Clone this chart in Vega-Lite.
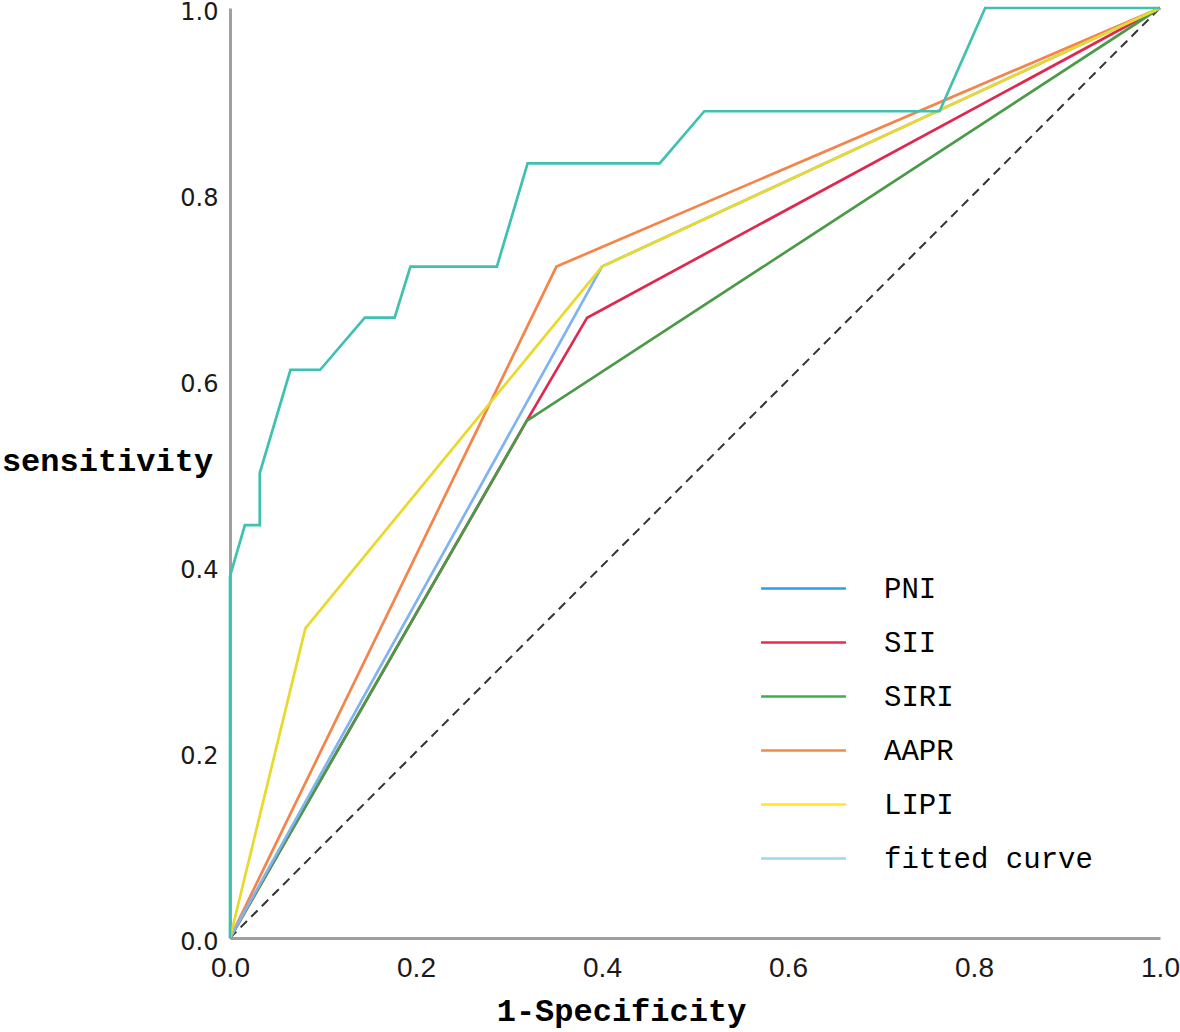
{
  "$schema": "https://vega.github.io/schema/vega-lite/v6.json",
  "description": "ROC curves of PNI, SII, SIRI, AAPR and LIPI",
  "width": 930,
  "height": 930,
  "autosize": {"type": "none"},
  "padding": {"left": 230, "top": 8, "right": 20, "bottom": 94},
  "background": "white",
  "config": {
    "view": {"stroke": null},
    "axis": {
      "grid": false,
      "ticks": false,
      "tickSize": 0,
      "labelFlush": false,
      "domainColor": "#a0a0a0",
      "domainWidth": 3,
      "labelColor": "#1a1a1a",
      "titleColor": "black",
      "titleFont": "Liberation Mono",
      "titleFontWeight": "bold",
      "titleFontSize": 32
    }
  },
  "datasets": {
    "curves": [
      {"series": "SII", "ord": 1, "x": 0, "y": 0},
      {"series": "SII", "ord": 2, "x": 0.319, "y": 0.556},
      {"series": "SII", "ord": 3, "x": 0.384, "y": 0.667},
      {"series": "SII", "ord": 4, "x": 1, "y": 1},
      {"series": "SIRI", "ord": 1, "x": 0, "y": 0},
      {"series": "SIRI", "ord": 2, "x": 0.319, "y": 0.556},
      {"series": "SIRI", "ord": 3, "x": 1, "y": 1},
      {"series": "AAPR", "ord": 1, "x": 0, "y": 0},
      {"series": "AAPR", "ord": 2, "x": 0.351, "y": 0.722},
      {"series": "AAPR", "ord": 3, "x": 1, "y": 1},
      {"series": "fitted curve", "ord": 1, "x": 0, "y": 0},
      {"series": "fitted curve", "ord": 2, "x": 0.4, "y": 0.722},
      {"series": "fitted curve", "ord": 3, "x": 1, "y": 1},
      {"series": "LIPI", "ord": 1, "x": 0, "y": 0},
      {"series": "LIPI", "ord": 2, "x": 0.081, "y": 0.333},
      {"series": "LIPI", "ord": 3, "x": 0.4, "y": 0.722},
      {"series": "LIPI", "ord": 4, "x": 1, "y": 1},
      {"series": "PNI", "ord": 1, "x": 0, "y": 0},
      {"series": "PNI", "ord": 2, "x": 0, "y": 0.389},
      {"series": "PNI", "ord": 3, "x": 0.016, "y": 0.444},
      {"series": "PNI", "ord": 4, "x": 0.032, "y": 0.444},
      {"series": "PNI", "ord": 5, "x": 0.032, "y": 0.5},
      {"series": "PNI", "ord": 6, "x": 0.065, "y": 0.611},
      {"series": "PNI", "ord": 7, "x": 0.097, "y": 0.611},
      {"series": "PNI", "ord": 8, "x": 0.145, "y": 0.667},
      {"series": "PNI", "ord": 9, "x": 0.177, "y": 0.667},
      {"series": "PNI", "ord": 10, "x": 0.194, "y": 0.722},
      {"series": "PNI", "ord": 11, "x": 0.287, "y": 0.722},
      {"series": "PNI", "ord": 12, "x": 0.32, "y": 0.833},
      {"series": "PNI", "ord": 13, "x": 0.462, "y": 0.833},
      {"series": "PNI", "ord": 14, "x": 0.51, "y": 0.889},
      {"series": "PNI", "ord": 15, "x": 0.763, "y": 0.889},
      {"series": "PNI", "ord": 16, "x": 0.812, "y": 1},
      {"series": "PNI", "ord": 17, "x": 1, "y": 1}
    ],
    "diagonal": [
      {"x": 0, "y": 0},
      {"x": 1, "y": 1}
    ]
  },
  "encoding": {
    "x": {
      "field": "x",
      "type": "quantitative",
      "scale": {"domain": [0, 1], "nice": false},
      "axis": {
        "values": [0, 0.2, 0.4, 0.6, 0.8, 1],
        "format": ".1f",
        "labelFont": "Liberation Sans Narrow, Liberation Sans",
        "labelFontSize": 28,
        "labelPadding": 16,
        "title": "1-Specificity",
        "titleX": 391,
        "titleY": 82,
        "titleAlign": "center",
        "titleBaseline": "alphabetic"
      }
    },
    "y": {
      "field": "y",
      "type": "quantitative",
      "scale": {"domain": [0, 1], "nice": false},
      "axis": {
        "values": [0, 0.2, 0.4, 0.6, 0.8, 1],
        "format": ".1f",
        "labelFont": "DejaVu Sans",
        "labelFontSize": 24,
        "labelPadding": 12,
        "labelOffset": 4,
        "title": "sensitivity",
        "titleAngle": 0,
        "titleX": -123,
        "titleY": 462,
        "titleAlign": "center",
        "titleBaseline": "alphabetic"
      }
    }
  },
  "layer": [
    {
      "data": {"name": "diagonal"},
      "mark": {"type": "line", "color": "#333333", "strokeWidth": 2, "strokeDash": [9, 6]},
      "encoding": {}
    },
    {
      "data": {"name": "curves"},
      "mark": {"type": "line", "strokeWidth": 2.7},
      "encoding": {
        "order": {"field": "ord", "type": "quantitative"},
        "stroke": {
          "field": "series",
          "type": "nominal",
          "scale": {
            "domain": ["SII", "SIRI", "AAPR", "fitted curve", "LIPI", "PNI"],
            "range": ["#e0284f", "#4a9a48", "#f5844a", "#80b4f0", "#e8d92a", "#40c0b0"]
          },
          "legend": null
        }
      }
    },
    {
      "data": {"name": "curves"},
      "mark": {"type": "line", "opacity": 0, "strokeWidth": 2.5},
      "encoding": {
        "order": {"field": "ord", "type": "quantitative"},
        "color": {
          "field": "series",
          "type": "nominal",
          "scale": {
            "domain": ["PNI", "SII", "SIRI", "AAPR", "LIPI", "fitted curve"],
            "range": ["#2a9fe8", "#f0284a", "#3cb04a", "#f58a46", "#ffe61e", "#a0d6ea"]
          },
          "legend": {
            "orient": "none",
            "legendX": 558,
            "legendY": 565,
            "title": null,
            "symbolType": "M-3,0H3",
            "symbolSize": 800,
            "symbolStrokeWidth": 2.5,
            "symbolOpacity": 1,
            "labelFont": "Liberation Mono",
            "labelFontSize": 29,
            "labelColor": "black",
            "labelLimit": 0,
            "labelOffset": 65,
            "rowPadding": 23
          }
        }
      }
    }
  ]
}
